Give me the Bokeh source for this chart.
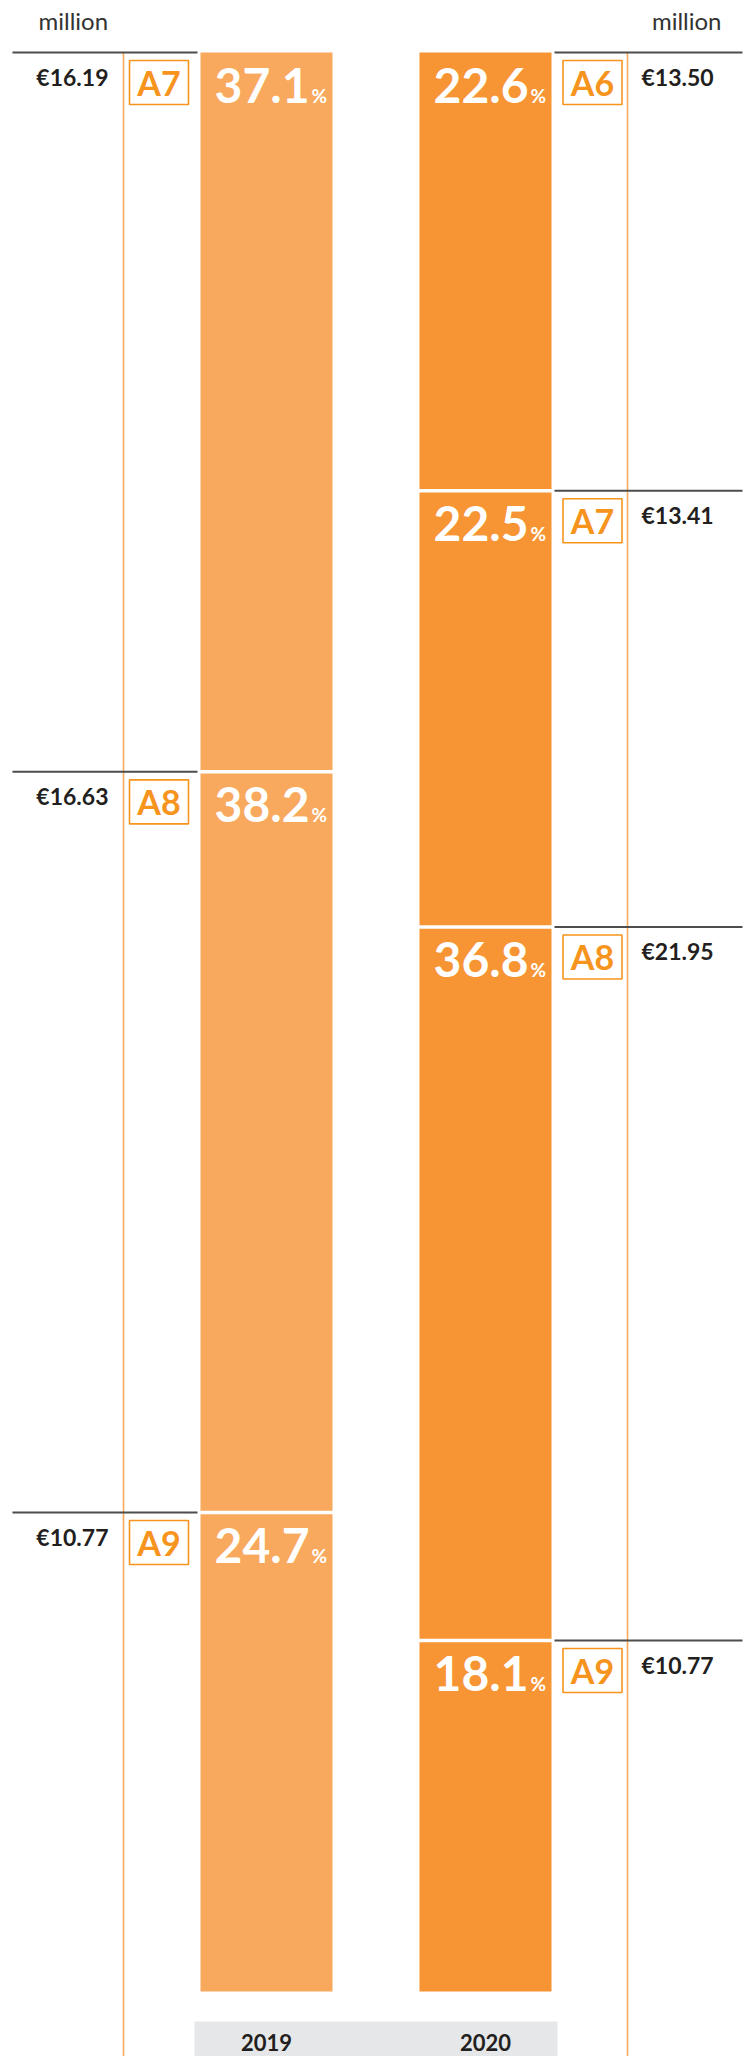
from bokeh.plotting import figure
from bokeh.models import Range1d
from bokeh.core.properties import value
from bokeh.embed import file_html
from bokeh.resources import INLINE

# ---------------- data ----------------
years = ["2019", "2020"]
groups_2019 = ["A7", "A8", "A9"]
share_2019 = [37.1, 38.2, 24.7]
eur_2019 = [16.19, 16.63, 10.77]
groups_2020 = ["A6", "A7", "A8", "A9"]
share_2020 = [22.6, 22.5, 36.8, 18.1]
eur_2020 = [13.50, 13.41, 21.95, 10.77]
unit_label = "million"

# ---------------- layout / style ----------------
W, H = 743, 2056
OFF = 0
BAR_TOP_PX = 52
BAR_BOT_PX = 1991
PPP = (BAR_BOT_PX - BAR_TOP_PX) / 100.0  # screen px per percent


def pct(screen_y):
    return (screen_y - BAR_TOP_PX) / PPP


FONT = value("Lato")
DARK = "#231F20"
BOX_ORANGE = "#F7941D"
RULE = "#4D4D4D"

layout = {
    "2019": dict(bar=(200, 332), rule=(12, 197), vline=123, box_x=158.5,
                 eur_x=108, eur_align="right", color="#F8A95D",
                 groups=groups_2019, share=share_2019, eur=eur_2019),
    "2020": dict(bar=(419, 551), rule=(554, 742), vline=627, box_x=592,
                 eur_x=641, eur_align="left", color="#F79433",
                 groups=groups_2020, share=share_2020, eur=eur_2020),
}

p = figure(width=W, height=H,
           x_range=Range1d(OFF, OFF + W),
           y_range=Range1d(pct(OFF + H), pct(OFF)),
           output_backend="svg", toolbar_location=None,
           x_axis_location=None, y_axis_location=None,
           min_border=0, tools="")
p.grid.visible = False
p.outline_line_color = None
p.background_fill_color = "white"
p.border_fill_color = "white"

y_page_bottom = pct(OFF + H)

for yr in years:
    L = layout[yr]
    shares = L["share"]
    starts = []
    acc = 0.0
    for s in shares:
        starts.append(acc)
        acc += s
    ends = [a + s for a, s in zip(starts, shares)]
    bl, br = L["bar"]
    n = len(shares)

    # orange vertical guide
    p.segment(x0=[L["vline"]], y0=[0], x1=[L["vline"]], y1=[y_page_bottom],
              line_color="#F8A95D", line_width=1.6)

    # bar segments
    p.quad(left=[bl] * n, right=[br] * n, top=starts, bottom=ends,
           fill_color=L["color"], line_color=None)
    # white gaps between segments
    p.segment(x0=[bl - 1] * (n - 1), x1=[br + 1] * (n - 1),
              y0=starts[1:], y1=starts[1:], line_color="white", line_width=3.5)

    # dark rules at segment tops
    r0, r1 = L["rule"]
    p.segment(x0=[r0] * n, x1=[r1] * n, y0=starts, y1=starts,
              line_color=RULE, line_width=2)

    # group boxes
    box_y = [s + 30 / PPP for s in starts]
    p.rect(x=[L["box_x"]] * n, y=box_y, width=59, height=44,
           width_units="screen", height_units="screen",
           fill_color="white", line_color=BOX_ORANGE, line_width=1.6)
    p.text(x=[L["box_x"]] * n, y=box_y, text=L["groups"],
           text_align="center", text_baseline="middle",
           text_font=FONT, text_font_style="bold", text_font_size="34px",
           text_color=BOX_ORANGE)

    # euro labels
    p.text(x=[L["eur_x"]] * n, y=[s + 24 / PPP for s in starts],
           text=["€%.2f" % v for v in L["eur"]],
           text_align=L["eur_align"], text_baseline="middle",
           text_font=FONT, text_font_style="bold", text_font_size="23px",
           text_color=DARK)

    # percent labels
    p.text(x=[br - 23] * n, y=[s + 33 / PPP for s in starts],
           text=["%.1f" % v for v in shares],
           text_align="right", text_baseline="middle",
           text_font=FONT, text_font_style="bold", text_font_size="48px",
           text_color="white")
    p.text(x=[br - 21] * n, y=[s + 43 / PPP for s in starts], text=["%"] * n,
           text_align="left", text_baseline="middle",
           text_font=FONT, text_font_style="bold", text_font_size="19px",
           text_color="white")

# "million" unit labels
p.text(x=[38], y=[pct(20)], text=[unit_label], text_align="left",
       text_baseline="middle", text_font=FONT, text_font_size="24px",
       text_color="#333333")
p.text(x=[721], y=[pct(20)], text=[unit_label], text_align="right",
       text_baseline="middle", text_font=FONT, text_font_size="24px",
       text_color="#333333")

# year band
p.quad(left=[194], right=[557], top=[pct(2021)], bottom=[y_page_bottom],
       fill_color="#E6E7E8", line_color=None)
centers = [sum(layout[y]["bar"]) / 2 for y in years]
p.text(x=centers, y=[pct(2042)] * len(years), text=years,
       text_align="center", text_baseline="middle",
       text_font=FONT, text_font_style="bold", text_font_size="22px",
       text_color=DARK)

open("out.html", "w").write(file_html(p, INLINE))
